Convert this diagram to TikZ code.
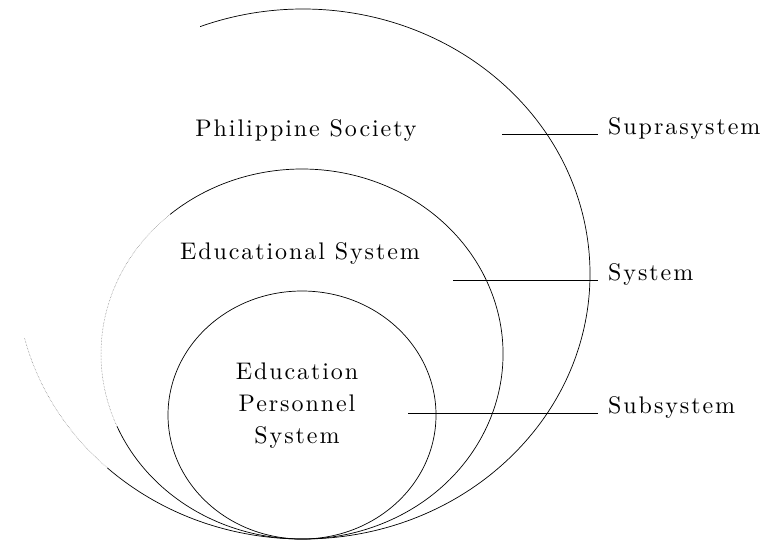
\documentclass[tikz,border=0pt]{standalone}
\usepackage{fontspec}
\newfontfamily\diagfont{lmroman10-regular}[Extension=.otf, LetterSpace=8]
\usepackage{tikz}
\usetikzlibrary{positioning,calc}

\begin{document}
\begin{tikzpicture}[x=1pt,y=1pt,
  ring/.style={line width=0.7pt},
  faint/.style={line width=0.5pt, densely dotted, black!55},
  pointer/.style={line width=1pt},
  lbl/.style={font=\diagfont\fontsize{24}{32}\selectfont, inner sep=0pt}]
\useasboundingbox (0,0) rectangle (767,542);

% Nested systems, all touching at the bottom
\coordinate (outer) at (303,268);
\coordinate (middle) at (302,188);
\coordinate (inner) at (302,127);

\draw[ring] (inner) ellipse [x radius=134, y radius=124];
\draw[ring] ($(middle)+(203:201 and 185)$) arc [start angle=203, end angle=491, x radius=201, y radius=185];
\draw[faint] ($(middle)+(131:201 and 185)$) arc [start angle=131, end angle=203, x radius=201, y radius=185];
\draw[ring] ($(outer)+(227:287 and 265)$) arc [start angle=227, end angle=471, x radius=287, y radius=265];
\draw[faint] ($(outer)+(194:287 and 265)$) arc [start angle=194, end angle=227, x radius=287, y radius=265];

% Names inside
\node[lbl, anchor=base] (society) at (306,406) {Philippine Society};
\node[lbl, anchor=base] (edsys) at (300,283) {Educational System};
\node[lbl, align=center] (personnel) at (297,136) {Education\\Personnel\\System};

% Levels on the right
\coordinate (supra-tip) at (502,408);
\coordinate (sys-tip) at (453,262);
\coordinate (sub-tip) at (408,129);

\node[lbl, inner xsep=10pt, anchor=base west] (supra) at (598,408) {Suprasystem};
\node[lbl, inner xsep=10pt, anchor=base west] (sys) at (598,262) {System};
\node[lbl, inner xsep=10pt, anchor=base west] (sub) at (598,129) {Subsystem};

\draw[pointer] (supra-tip) -- (supra.base west);
\draw[pointer] (sys-tip) -- (sys.base west);
\draw[pointer] (sub-tip) -- (sub.base west);
\end{tikzpicture}
\end{document}
